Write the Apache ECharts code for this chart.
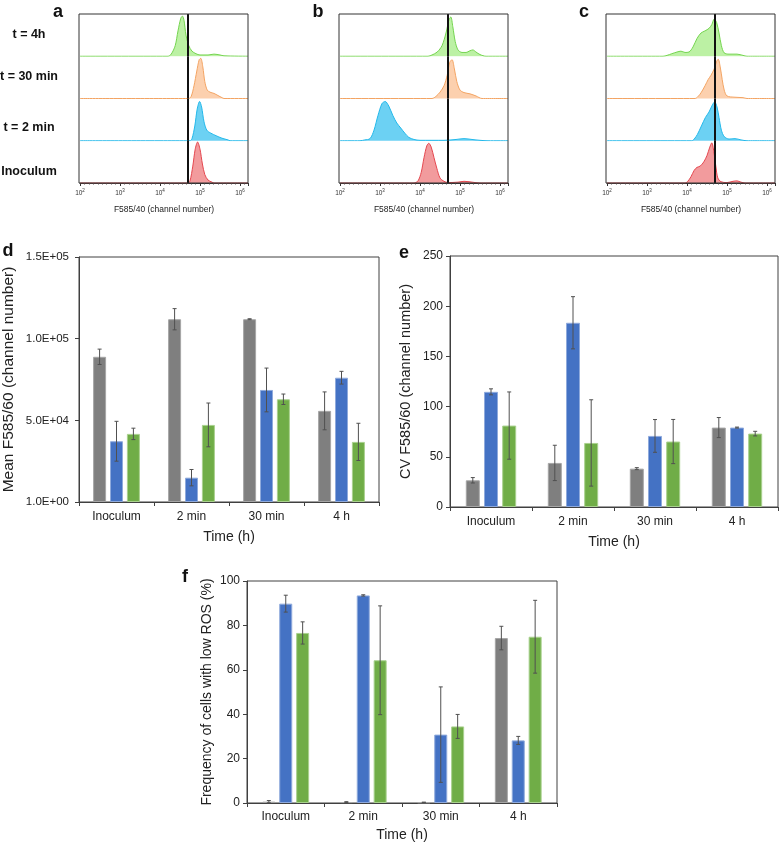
<!DOCTYPE html>
<html>
<head>
<meta charset="utf-8">
<script src="https://cdn.jsdelivr.net/npm/echarts@6/dist/echarts.min.js"></script>
<style>
  html, body { margin: 0; padding: 0; background: #fff; }
  #chart { width: 780px; height: 844px; }
</style>
</head>
<body>
<div id="chart"></div>
<script>
// histogram traces, pairs of [log10(channel), normalised count]
var histA4h   = [[2,0],[4.2,0],[4.28,0.05],[4.38,0.25],[4.45,0.6],[4.52,0.9],[4.56,0.95],[4.6,0.85],[4.65,0.5],[4.72,0.25],[4.8,0.12],[4.9,0.06],[5.0,0.03],[5.2,0.03],[5.35,0.05],[5.5,0.03],[5.6,0.01],[6.2,0]];
var histA30   = [[2,0],[4.72,0],[4.78,0.05],[4.85,0.3],[4.92,0.65],[4.98,0.92],[5.02,0.95],[5.07,0.75],[5.12,0.4],[5.18,0.2],[5.25,0.15],[5.35,0.12],[5.45,0.07],[5.55,0.02],[5.6,0],[6.2,0]];
var histA2    = [[2,0],[4.75,0],[4.8,0.05],[4.87,0.35],[4.93,0.75],[4.99,0.93],[5.04,0.8],[5.1,0.45],[5.17,0.25],[5.27,0.18],[5.4,0.12],[5.55,0.06],[5.7,0.02],[5.75,0],[6.2,0]];
var histAInoc = [[2,0],[4.7,0],[4.75,0.05],[4.82,0.4],[4.88,0.8],[4.94,0.97],[5.0,0.8],[5.06,0.45],[5.12,0.2],[5.2,0.07],[5.3,0.02],[5.35,0],[6.2,0]];

var histB4h   = [[2,0],[4.2,0],[4.3,0.03],[4.43,0.1],[4.55,0.25],[4.65,0.55],[4.72,0.85],[4.77,0.93],[4.82,0.7],[4.88,0.35],[4.95,0.15],[5.05,0.09],[5.15,0.09],[5.25,0.13],[5.32,0.15],[5.4,0.1],[5.5,0.04],[5.65,0],[6.2,0]];
var histB30   = [[2,0],[4.3,0],[4.4,0.05],[4.5,0.15],[4.6,0.3],[4.68,0.55],[4.74,0.85],[4.8,0.92],[4.86,0.7],[4.92,0.4],[5.0,0.2],[5.1,0.14],[5.25,0.11],[5.4,0.06],[5.55,0],[6.2,0]];
var histB2    = [[2,0],[2.5,0],[2.62,0.02],[2.75,0.05],[2.85,0.25],[2.95,0.6],[3.05,0.88],[3.13,0.93],[3.22,0.82],[3.32,0.6],[3.42,0.42],[3.52,0.3],[3.62,0.18],[3.72,0.08],[3.85,0.03],[4.0,0.01],[4.6,0.01],[4.9,0.03],[5.1,0.05],[5.3,0.03],[5.5,0.01],[5.7,0],[6.2,0]];
var histBInoc = [[2,0],[3.85,0],[3.95,0.05],[4.03,0.25],[4.1,0.6],[4.17,0.88],[4.22,0.94],[4.28,0.85],[4.35,0.6],[4.42,0.35],[4.5,0.12],[4.6,0.04],[4.7,0.01],[4.95,0.02],[5.1,0.04],[5.3,0.02],[5.5,0],[6.2,0]];

var histC4h   = [[2,0],[3.4,0],[3.5,0.02],[3.62,0.06],[3.75,0.1],[3.85,0.12],[3.95,0.09],[4.05,0.1],[4.15,0.22],[4.25,0.42],[4.35,0.55],[4.45,0.6],[4.55,0.66],[4.62,0.75],[4.68,0.88],[4.74,0.8],[4.8,0.55],[4.86,0.25],[4.93,0.08],[5.05,0.05],[5.25,0.05],[5.4,0.02],[5.5,0],[6.2,0]];
var histC30   = [[2,0],[4.2,0],[4.28,0.05],[4.36,0.15],[4.45,0.3],[4.53,0.45],[4.6,0.55],[4.68,0.7],[4.74,0.88],[4.78,0.93],[4.83,0.75],[4.88,0.45],[4.93,0.2],[5.0,0.06],[5.2,0.03],[5.4,0.02],[5.5,0],[6.2,0]];
var histC2    = [[2,0],[4.12,0],[4.18,0.04],[4.26,0.15],[4.36,0.35],[4.46,0.55],[4.55,0.68],[4.62,0.82],[4.69,0.92],[4.75,0.8],[4.8,0.55],[4.86,0.25],[4.93,0.1],[5.05,0.04],[5.2,0.05],[5.35,0.02],[5.5,0],[6.2,0]];
var histCInoc = [[2,0],[3.95,0],[4.02,0.04],[4.1,0.15],[4.18,0.3],[4.25,0.37],[4.33,0.4],[4.42,0.5],[4.5,0.65],[4.57,0.85],[4.62,0.95],[4.67,0.75],[4.72,0.4],[4.77,0.12],[4.85,0.03],[5.0,0.01],[5.15,0.04],[5.25,0.05],[5.35,0.02],[5.45,0],[6.2,0]];

var laneLabels = ['t = 4h', 't = 30 min', 't = 2 min', 'Inoculum'];
var gateLog = 4.7;   // gate line at 5E+04

// bar charts
var timeCats = ['Inoculum', '2 min', '30 min', '4 h'];
var meanGray  = [88900, 111900, 111900, 55800];
var meanGrayErr  = [4700, 6500, 300, 11600];
var meanBlue  = [37200, 14900, 68600, 76100];
var meanBlueErr  = [12200, 5000, 13400, 3900];
var meanGreen = [41700, 47200, 62900, 36800];
var meanGreenErr = [3500, 13400, 3200, 11400];

var cvGray  = [26.6, 43.9, 38.2, 79.1];
var cvGrayErr  = [2.7, 17.6, 1, 10];
var cvBlue  = [114.7, 183.5, 70.8, 79.1];
var cvBlueErr  = [3, 26, 16.3, 0.5];
var cvGreen = [81.1, 63.8, 65.2, 73.1];
var cvGreenErr = [33.5, 43, 22, 2.3];

var lowGray  = [0.6, 0.4, 0.3, 74.3];
var lowGrayErr  = [0.5, 0.2, 0.1, 5.3];
var lowBlue  = [89.8, 93.5, 30.8, 28.2];
var lowBlueErr  = [3.8, 0.3, 21.5, 1.8];
var lowGreen = [76.6, 64.3, 34.5, 74.9];
var lowGreenErr = [5, 24.5, 5.4, 16.4];

var FONT = 'Liberation Sans, Arial, sans-serif';
var laneColors = [
    {line: '#74d44f', fill: '#b0ee94'},
    {line: '#f3a463', fill: '#fbc8a0'},
    {line: '#22b8ea', fill: '#52c9f1'},
    {line: '#e4474f', fill: '#f08a8c'}
];
var barColors = [
    {fill: '#7f7f7f', border: '#a6a6a6'},
    {fill: '#4472c4', border: '#8faadc'},
    {fill: '#70ad47', border: '#a9d18e'}
];

var grids = [], xAxes = [], yAxes = [], series = [], graphics = [];

// ---- histogram panels a, b, c ----
var histPanels = [
    {left: 80, letter: 'a', lx: 58, traces: [histA4h, histA30, histA2, histAInoc]},
    {left: 340, letter: 'b', lx: 318, traces: [histB4h, histB30, histB2, histBInoc]},
    {left: 607, letter: 'c', lx: 584, traces: [histC4h, histC30, histC2, histCInoc]}
];
var laneTop = 14, laneH = 42.25, histW = 168;

histPanels.forEach(function (p) {
    for (var k = 0; k < 4; k++) {
        var idx = grids.length;
        var last = (k === 3);
        grids.push({left: p.left, top: laneTop + k * laneH, width: histW, height: laneH});
        xAxes.push({
            gridIndex: idx, type: 'value', min: 2, max: 6.2, interval: 1,
            splitLine: {show: false},
            axisLine: {show: last, lineStyle: {color: '#333', width: 1}},
            axisTick: {show: last, length: 3, lineStyle: {color: '#333'}},
            minorTick: {show: last, splitNumber: 9, length: 1.5, lineStyle: {color: '#555'}},
            axisLabel: {
                show: last, margin: 5, color: '#333',
                formatter: function (v) {
                    return Number.isInteger(v) ? '{b|10}{s|' + v + '}' : '';
                },
                rich: {
                    b: {fontSize: 6.5, fontFamily: FONT, color: '#333'},
                    s: {fontSize: 4.5, fontFamily: FONT, color: '#333', verticalAlign: 'top', padding: [0, 0, 5, 0]}
                }
            },
            name: last ? 'F585/40 (channel number)' : '',
            nameLocation: 'middle', nameGap: 22,
            nameTextStyle: {fontSize: 8.5, fontFamily: FONT, color: '#222'}
        });
        yAxes.push({gridIndex: idx, type: 'value', min: 0, max: 1, show: false});
        series.push({
            type: 'line', xAxisIndex: idx, yAxisIndex: idx,
            data: p.traces[k], showSymbol: false, smooth: 0.3,
            lineStyle: {color: laneColors[k].line, width: 1},
            areaStyle: {color: laneColors[k].fill, opacity: 0.85},
            markLine: {
                silent: true, symbol: 'none', label: {show: false},
                lineStyle: {color: '#111', width: 2, type: 'solid'},
                data: [{xAxis: gateLog}]
            },
            z: 2
        });
    }
    graphics.push({
        type: 'rect', z: 10,
        shape: {x: p.left - 1, y: laneTop, width: histW + 1, height: laneH * 4},
        style: {fill: 'none', stroke: '#333', lineWidth: 1}
    });
    graphics.push({
        type: 'text', x: p.lx, y: 12,
        style: {text: p.letter, font: 'bold 18px ' + FONT, fill: '#111', textAlign: 'center', textVerticalAlign: 'middle'}
    });
});

var laneLabelY = [35, 77, 128, 172];
laneLabels.forEach(function (t, i) {
    graphics.push({
        type: 'text', x: 29, y: laneLabelY[i],
        style: {text: t, font: 'bold 12.5px ' + FONT, fill: '#111', textAlign: 'center', textVerticalAlign: 'middle'}
    });
});

// ---- bar panels d, e, f ----
function sci(v) {
    if (v === 0) return '1.0E+00';
    var e = Math.floor(Math.log10(v));
    var m = (v / Math.pow(10, e)).toFixed(1);
    return m + 'E+' + (e < 10 ? '0' : '') + e;
}

var barPanels = [
    {left: 78, top: 257, width: 301, height: 245, max: 150000, interval: 50000, bw: 13,
     yName: 'Mean F585/60 (channel number)', yNameSize: 15.5, yNameGap: 62, yLabelSize: 11.5, yMargin: 10, fmt: sci,
     catMargin: 9, xNameGap: 28, letter: 'd', lx: 8, ly: 251,
     vals: [meanGray, meanBlue, meanGreen], errs: [meanGrayErr, meanBlueErr, meanGreenErr]},
    {left: 450, top: 256, width: 328, height: 251, max: 250, interval: 50, bw: 14,
     yName: 'CV F585/60 (channel number)', yNameSize: 14.5, yNameGap: 37, yLabelSize: 12, yMargin: 7, fmt: null,
     catMargin: 9, xNameGap: 28, letter: 'e', lx: 404, ly: 253,
     vals: [cvGray, cvBlue, cvGreen], errs: [cvGrayErr, cvBlueErr, cvGreenErr]},
    {left: 247, top: 581, width: 310, height: 222, max: 100, interval: 20, bw: 13,
     yName: 'Frequency of cells with low ROS (%)', yNameSize: 14, yNameGap: 33, yLabelSize: 12, yMargin: 7, fmt: null,
     catMargin: 8, xNameGap: 25, letter: 'f', lx: 185, ly: 577,
     vals: [lowGray, lowBlue, lowGreen], errs: [lowGrayErr, lowBlueErr, lowGreenErr]}
];

function errRenderer(offset) {
    return function (params, api) {
        var c = api.value(0), v = api.value(1), e = api.value(2);
        var x = api.coord([c, 0])[0] + offset;
        var hi = api.coord([c, v + e])[1];
        var lo = api.coord([c, v - e])[1];
        var st = {stroke: '#505050', lineWidth: 1};
        return {
            type: 'group',
            children: [
                {type: 'line', shape: {x1: x, y1: hi, x2: x, y2: lo}, style: st},
                {type: 'line', shape: {x1: x - 2, y1: hi, x2: x + 2, y2: hi}, style: st},
                {type: 'line', shape: {x1: x - 2, y1: lo, x2: x + 2, y2: lo}, style: st}
            ]
        };
    };
}

barPanels.forEach(function (p) {
    var idx = grids.length;
    grids.push({left: p.left, top: p.top, width: p.width, height: p.height,
                show: true, borderColor: '#404040', borderWidth: 1});
    xAxes.push({
        gridIndex: idx, type: 'category', data: timeCats,
        axisLine: {lineStyle: {color: '#404040'}},
        axisTick: {show: true, length: 4, lineStyle: {color: '#404040'}},
        axisLabel: {fontSize: 12, fontFamily: FONT, color: '#222', margin: p.catMargin},
        name: 'Time (h)', nameLocation: 'middle', nameGap: p.xNameGap,
        nameTextStyle: {fontSize: 14, fontFamily: FONT, color: '#222'}
    });
    yAxes.push({
        gridIndex: idx, type: 'value', min: 0, max: p.max, interval: p.interval,
        splitLine: {show: false},
        axisLine: {show: true, lineStyle: {color: '#404040'}},
        axisTick: {show: true, length: 4, lineStyle: {color: '#404040'}},
        axisLabel: {fontSize: p.yLabelSize, fontFamily: FONT, color: '#222', margin: p.yMargin,
                    formatter: p.fmt ? p.fmt : '{value}'},
        name: p.yName, nameLocation: 'middle', nameRotate: 90, nameGap: p.yNameGap,
        nameTextStyle: {fontSize: p.yNameSize, fontFamily: FONT, color: '#222'}
    });
    for (var s = 0; s < 3; s++) {
        series.push({
            type: 'bar', xAxisIndex: idx, yAxisIndex: idx,
            data: p.vals[s], barWidth: p.bw, barGap: '30%',
            itemStyle: {color: barColors[s].fill, borderColor: barColors[s].border, borderWidth: 1}
        });
    }
    for (var s2 = 0; s2 < 3; s2++) {
        var offset = (s2 - 1) * p.bw * 1.3;
        var rows = p.vals[s2].map(function (v, i) { return [i, v, p.errs[s2][i]]; });
        series.push({
            type: 'custom', xAxisIndex: idx, yAxisIndex: idx,
            data: rows, renderItem: errRenderer(offset), z: 5, silent: true
        });
    }
    graphics.push({
        type: 'text', x: p.lx, y: p.ly,
        style: {text: p.letter, font: 'bold 18px ' + FONT, fill: '#111', textAlign: 'center', textVerticalAlign: 'middle'}
    });
});

var chart = echarts.init(document.getElementById('chart'));
chart.setOption({
    animation: false,
    backgroundColor: '#fff',
    textStyle: {fontFamily: FONT},
    grid: grids,
    xAxis: xAxes,
    yAxis: yAxes,
    series: series,
    graphic: graphics
});
</script>
</body>
</html>
